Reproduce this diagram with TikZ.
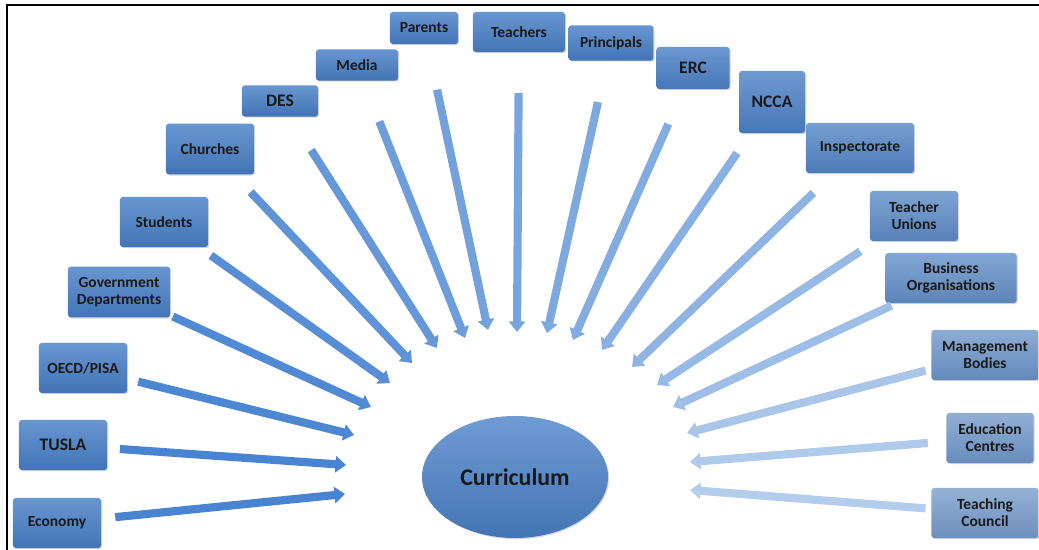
\documentclass[tikz,border=0pt]{standalone}
\usepackage{fontspec}
\setmainfont{Carlito}
\usetikzlibrary{arrows.meta,shapes.geometric,shadows}
\definecolor{boxtopL}{RGB}{104,150,208}
\definecolor{boxbotL}{RGB}{66,116,182}
\definecolor{boxtopR}{RGB}{150,178,214}
\definecolor{boxbotR}{RGB}{108,143,188}
\definecolor{arrowL}{RGB}{72,132,210}
\definecolor{arrowR}{RGB}{180,205,236}
\definecolor{ovaltop}{RGB}{112,156,212}
\definecolor{ovalbot}{RGB}{68,116,180}
\begin{document}
\begin{tikzpicture}[x=0.025cm,y=-0.025cm,
  actor/.style={shape=rectangle,rounded corners=2pt,align=center,
    font=\bfseries\fontsize{11}{12}\selectfont,text=black!90,inner sep=1pt,
    minimum width=2.2cm,minimum height=1.25cm,
    top color=boxtopL!#1!boxtopR,bottom color=boxbotL!#1!boxbotR,
    drop shadow={opacity=0.3,shadow xshift=0.8pt,shadow yshift=-0.8pt}},
  big/.style={font=\bfseries\fontsize{12.5}{13}\selectfont},
  feed/.style={line width=5.8pt,-{Triangle[length=7.5pt,width=11.5pt]},draw=arrowL!#1!arrowR}]
\useasboundingbox (0,0) rectangle (1039,550);
\draw [line width=1.1pt] (7,5) rectangle (1060,570);
\path node (curriculum) at (515,477) [shape=ellipse,minimum width=4.65cm,minimum height=3.05cm,
        top color=ovaltop,bottom color=ovalbot,font=\bfseries\fontsize{17}{18}\selectfont,text=black!90,
        drop shadow={opacity=0.3,shadow xshift=0.8pt,shadow yshift=-0.8pt}] {Curriculum}
      node (economy) at (57,523) [actor=100] {Economy}
      node (tusla) at (63,445) [actor=100,big] {TUSLA}
      node (oecd) at (83,368) [actor=100] {OECD/PISA}
      node (govdept) at (119,292) [actor=100,minimum width=2.55cm,minimum height=1.27cm] {Government\\Departments}
      node (students) at (164,222) [actor=100] {Students}
      node (churches) at (210,149) [actor=100,minimum height=1.27cm] {Churches}
      node (des) at (280,101) [actor=100,big,minimum width=1.9cm,minimum height=0.78cm] {DES}
      node (media) at (357,65) [actor=100,minimum width=2.05cm,minimum height=0.78cm] {Media}
      node (parents) at (424,28) [actor=100,minimum width=1.7cm,minimum height=0.8cm] {Parents}
      node (teachers) at (519,32) [actor=100,minimum width=2.3cm,minimum height=1cm] {Teachers}
      node (principals) at (611,43) [actor=100,minimum width=2.12cm,minimum height=0.88cm] {Principals}
      node (erc) at (693,68) [actor=92,big,minimum width=1.83cm,minimum height=1.05cm] {ERC}
      node (ncca) at (772,102) [actor=88,big,minimum width=1.65cm,minimum height=1.55cm] {NCCA}
      node (inspectorate) at (860,148) [actor=72,minimum width=2.7cm] {Inspectorate}
      node (unions) at (914,216) [actor=52] {Teacher\\Unions}
      node (business) at (951,278) [actor=40,minimum width=3.28cm] {Business\\Organisations}
      node (management) at (985,355) [actor=20,minimum width=2.68cm] {Management\\Bodies}
      node (centres) at (990,438) [actor=10,minimum width=2.18cm] {Education\\Centres}
      node (council) at (985,513) [actor=0,minimum width=2.68cm] {Teaching\\Council};
\coordinate (economy-tip) at (345,494);
\coordinate (tusla-tip) at (346,465);
\coordinate (oecd-tip) at (354,435);
\coordinate (govdept-tip) at (371,407);
\coordinate (students-tip) at (390,383);
\coordinate (churches-tip) at (412,363);
\coordinate (des-tip) at (437,348);
\coordinate (media-tip) at (465,338);
\coordinate (parents-tip) at (488,330);
\coordinate (teachers-tip) at (517,332);
\coordinate (principals-tip) at (547,333);
\coordinate (erc-tip) at (573,340);
\coordinate (ncca-tip) at (602,350);
\coordinate (inspectorate-tip) at (632,367);
\coordinate (unions-tip) at (657,385);
\coordinate (business-tip) at (673,407);
\coordinate (management-tip) at (687,433);
\coordinate (centres-tip) at (690,462);
\coordinate (council-tip) at (690,490);
\draw [feed=100,shorten <=10pt] (economy) to (economy-tip);
\draw [feed=100,shorten <=9pt] (tusla) to (tusla-tip);
\draw [feed=96,shorten <=8pt] (oecd) to (oecd-tip);
\draw [feed=92,shorten <=2pt] (govdept) to (govdept-tip);
\draw [feed=86,shorten <=10pt] (students) to (students-tip);
\draw [feed=80,shorten <=17pt] (churches) to (churches-tip);
\draw [feed=72,shorten <=28pt] (des) to (des-tip);
\draw [feed=66,shorten <=31pt] (media) to (media-tip);
\draw [feed=60,shorten <=33pt] (parents) to (parents-tip);
\draw [feed=55,shorten <=29pt] (teachers) to (teachers-tip);
\draw [feed=50,shorten <=30pt] (principals) to (principals-tip);
\draw [feed=45,shorten <=27pt] (erc) to (erc-tip);
\draw [feed=40,shorten <=17pt] (ncca) to (ncca-tip);
\draw [feed=34,shorten <=20pt] (inspectorate) to (inspectorate-tip);
\draw [feed=28,shorten <=13pt] (unions) to (unions-tip);
\draw [feed=20,shorten <=4pt] (business) to (business-tip);
\draw [feed=10,shorten <=4pt] (management) to (management-tip);
\draw [feed=4,shorten <=13pt] (centres) to (centres-tip);
\draw [feed=0,shorten <=4pt] (council) to (council-tip);
\end{tikzpicture}
\end{document}
